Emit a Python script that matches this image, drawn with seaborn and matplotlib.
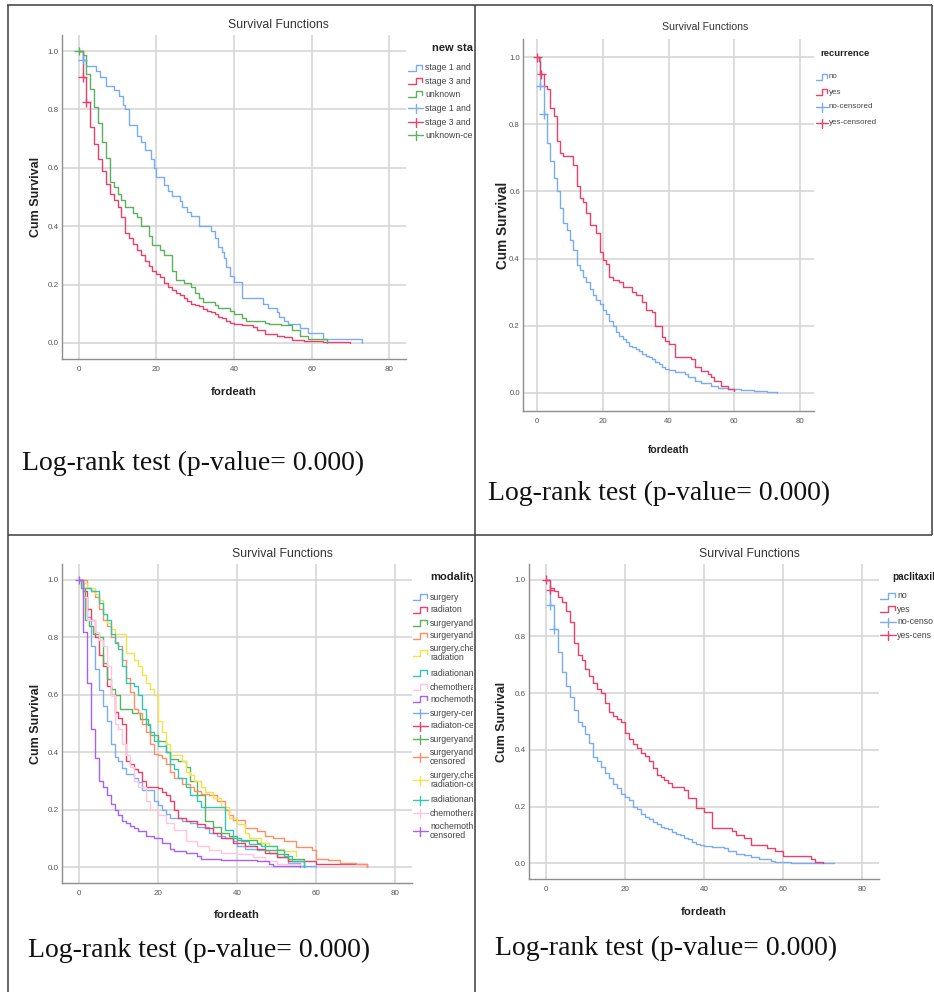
import numpy as np
import pandas as pd
import seaborn as sns
import matplotlib.pyplot as plt

###############################
######### data ################
###############################

## panel 1 : new stage
stage12_t = [0, 1, 2, 4.5, 5.5, 7, 9, 10.3, 11.4, 12, 13, 15, 16, 17, 18.5, 19.3, 20, 22, 23, 24, 26, 26.5,
             28, 29, 31, 34, 35, 36, 37, 37.5, 38, 39, 40, 42, 47.5, 48.7, 51, 51.7, 53, 54, 57, 59, 63, 73]
stage12_s = [1.0, 0.97, 0.95, 0.93, 0.91, 0.88, 0.865, 0.845, 0.815, 0.80, 0.745, 0.71, 0.69, 0.66, 0.63, 0.60,
             0.57, 0.54, 0.52, 0.505, 0.485, 0.465, 0.45, 0.435, 0.40, 0.385, 0.36, 0.33, 0.31, 0.29, 0.26, 0.23,
             0.21, 0.155, 0.135, 0.12, 0.105, 0.09, 0.075, 0.065, 0.05, 0.035, 0.015, 0.0]
stage34_t = [0, 1, 2, 3, 4, 5, 6, 7, 8, 9, 10, 11, 12, 13, 14, 15, 16, 17, 18, 19, 20, 21, 22, 23, 24, 25, 26,
             27, 28, 29, 30, 31, 32, 33, 34, 35, 36, 37, 38, 39, 40, 42, 45, 46, 48, 51, 53, 55, 58, 63, 70]
stage34_s = [1.0, 0.91, 0.825, 0.74, 0.68, 0.63, 0.59, 0.545, 0.51, 0.49, 0.465, 0.43, 0.375, 0.36, 0.34, 0.32,
             0.30, 0.28, 0.265, 0.245, 0.235, 0.225, 0.205, 0.19, 0.18, 0.17, 0.165, 0.155, 0.145, 0.135, 0.13,
             0.125, 0.115, 0.11, 0.105, 0.10, 0.09, 0.085, 0.075, 0.07, 0.065, 0.06, 0.055, 0.045, 0.03, 0.025,
             0.02, 0.01, 0.008, 0.004, 0.0]
unknown_t = [0, 1, 2, 3, 4, 5, 6, 7, 8, 9, 10, 11, 12, 14, 15, 16, 18, 19, 21, 22, 24, 25, 27, 29, 30, 31, 32,
             35, 36, 39, 40, 42, 43, 48, 49, 52, 55, 57, 59, 64]
unknown_s = [1.0, 0.985, 0.92, 0.87, 0.81, 0.755, 0.69, 0.635, 0.55, 0.535, 0.51, 0.49, 0.465, 0.445, 0.43, 0.40,
             0.365, 0.335, 0.32, 0.30, 0.245, 0.215, 0.205, 0.19, 0.17, 0.155, 0.14, 0.13, 0.12, 0.11, 0.10,
             0.085, 0.075, 0.07, 0.065, 0.06, 0.045, 0.025, 0.015, 0.0]
stage_names = ['stage 1 and 2', 'stage 3 and 4', 'unknown']
# legend text as far as the table cell shows it
stage_legend = ['stage 1 and 2', 'stage 3 and 4', 'unknown',
                'stage 1 and 2-cen', 'stage 3 and 4-cen', 'unknown-censo']
stage_cens_group = ['unknown', 'stage 1 and 2', 'stage 3 and 4', 'stage 3 and 4']
stage_cens_t = [0, 1, 1, 2]
stage_cens_s = [1.0, 0.97, 0.91, 0.825]

## panel 2 : recurrence
rec_no_t = [0, 1, 2, 3, 4, 5, 6, 7, 8, 9, 10, 11, 12, 13, 14, 15, 16, 17, 18, 19, 20, 21, 22, 23, 24, 25, 26,
            27, 28, 29, 30, 31, 32, 33, 34, 35, 36, 37, 38, 39, 40, 42, 45, 46, 48, 50, 53, 55, 58, 62, 66, 70, 73]
rec_no_s = [1.0, 0.915, 0.83, 0.745, 0.69, 0.64, 0.60, 0.55, 0.505, 0.485, 0.455, 0.425, 0.38, 0.365, 0.345,
            0.33, 0.31, 0.29, 0.275, 0.265, 0.245, 0.235, 0.215, 0.20, 0.18, 0.17, 0.16, 0.15, 0.14, 0.135,
            0.13, 0.125, 0.115, 0.11, 0.105, 0.10, 0.09, 0.085, 0.075, 0.07, 0.067, 0.06, 0.055, 0.045, 0.035,
            0.03, 0.02, 0.015, 0.01, 0.007, 0.004, 0.002, 0.0]
rec_yes_t = [0, 0.5, 1, 2, 3, 4, 5, 6, 7, 8, 11, 12, 13, 14, 15, 16, 18, 19, 20, 21, 22, 23, 25, 26, 29, 30,
             32, 33, 35, 36, 38, 39, 40, 42, 47, 48, 50, 52, 53, 54, 56, 58, 60]
rec_yes_s = [1.0, 0.99, 0.95, 0.915, 0.905, 0.85, 0.825, 0.75, 0.715, 0.705, 0.68, 0.615, 0.58, 0.57, 0.535,
             0.50, 0.475, 0.42, 0.395, 0.385, 0.345, 0.335, 0.33, 0.315, 0.30, 0.29, 0.27, 0.245, 0.24, 0.20,
             0.165, 0.155, 0.145, 0.105, 0.10, 0.075, 0.065, 0.055, 0.045, 0.035, 0.02, 0.01, 0.005]
rec_names = ['no', 'yes']
rec_legend = ['no', 'yes', 'no-censored', 'yes-censored']
rec_cens_group = ['yes', 'yes', 'no', 'no']
rec_cens_t = [0, 1.3, 1, 2]
rec_cens_s = [1.0, 0.95, 0.915, 0.83]

## panel 3 : modality of treatment
mod_surgery_t = [0, 1, 2, 3, 4, 5, 6, 7, 8, 9, 10, 11, 12, 14, 15, 16, 19, 20, 21, 22, 23, 26, 28, 30, 33, 35,
                 37, 39, 40, 42, 45, 48, 50, 53, 56, 60]
mod_surgery_s = [1.0, 0.94, 0.87, 0.77, 0.69, 0.615, 0.56, 0.51, 0.43, 0.385, 0.37, 0.345, 0.325, 0.31, 0.295,
                 0.27, 0.23, 0.215, 0.20, 0.185, 0.17, 0.16, 0.155, 0.14, 0.12, 0.11, 0.10, 0.09, 0.075, 0.065,
                 0.06, 0.05, 0.035, 0.015, 0.005, 0.0]
mod_radiation_t = [0, 1, 2, 3, 4, 5, 6, 7, 8, 9, 10, 11, 12, 13, 14, 15, 16, 17, 20, 21, 22, 23, 24, 25, 27, 30,
                   32, 34, 36, 39, 42, 45, 47, 50, 53, 60, 73]
mod_radiation_s = [1.0, 0.96, 0.90, 0.86, 0.80, 0.74, 0.70, 0.63, 0.60, 0.54, 0.52, 0.50, 0.37, 0.36, 0.34, 0.33,
                   0.30, 0.28, 0.275, 0.26, 0.25, 0.23, 0.20, 0.17, 0.16, 0.15, 0.135, 0.12, 0.10, 0.085, 0.075,
                   0.065, 0.05, 0.035, 0.02, 0.01, 0.0]
mod_surg_rad_t = [0, 0.5, 1.5, 2.5, 3.5, 5, 6, 7, 8, 9, 10.5, 13.5, 15.5, 17.5, 18, 20, 22, 23, 25, 27, 28, 30,
                  32, 34, 36, 38, 40, 45, 47, 50, 53, 57]
mod_surg_rad_s = [1.0, 0.97, 0.86, 0.84, 0.81, 0.80, 0.71, 0.655, 0.62, 0.60, 0.55, 0.535, 0.515, 0.495, 0.46,
                  0.44, 0.40, 0.375, 0.37, 0.35, 0.30, 0.25, 0.16, 0.14, 0.12, 0.11, 0.095, 0.085, 0.06, 0.045,
                  0.03, 0.0]
mod_surg_chemo_t = [0, 2, 3, 4, 5, 6, 7, 8, 9, 10, 11, 12, 13, 14, 15, 16, 17, 18, 19, 20, 21, 22, 23, 24, 26,
                    28, 29, 31, 33, 35, 37, 38, 39, 42, 45, 47, 49, 52, 55, 59, 60, 63, 66, 70, 73]
mod_surg_chemo_s = [1.0, 0.97, 0.96, 0.94, 0.90, 0.86, 0.84, 0.80, 0.785, 0.77, 0.72, 0.66, 0.61, 0.55, 0.535,
                    0.50, 0.47, 0.43, 0.395, 0.39, 0.38, 0.36, 0.33, 0.31, 0.29, 0.28, 0.265, 0.255, 0.25, 0.23,
                    0.20, 0.18, 0.165, 0.135, 0.125, 0.11, 0.10, 0.09, 0.07, 0.06, 0.03, 0.025, 0.015, 0.01, 0.0]
mod_all_t = [0, 1, 2, 4, 5, 6, 7, 8, 9, 12, 14, 15, 16, 17, 18, 19, 20, 21, 22, 23, 26, 27, 28, 29, 31, 32, 34,
             36, 38, 40, 42, 43, 46, 48, 50, 52, 55]
mod_all_s = [1.0, 0.99, 0.97, 0.95, 0.93, 0.88, 0.85, 0.83, 0.81, 0.745, 0.72, 0.70, 0.67, 0.64, 0.62, 0.60,
             0.51, 0.47, 0.43, 0.39, 0.37, 0.33, 0.32, 0.30, 0.28, 0.26, 0.24, 0.21, 0.17, 0.15, 0.12, 0.10,
             0.085, 0.075, 0.065, 0.055, 0.04]
mod_rad_chemo_t = [0, 1, 3, 5, 6, 7, 8, 9, 10, 11, 12, 14, 15, 16, 17, 18, 19, 20, 22, 23, 24, 25, 27, 28, 30,
                   31, 37, 39, 41, 43, 46, 50, 52, 54, 57]
mod_rad_chemo_s = [1.0, 0.97, 0.96, 0.92, 0.88, 0.86, 0.81, 0.78, 0.76, 0.70, 0.64, 0.63, 0.60, 0.55, 0.50,
                   0.47, 0.44, 0.42, 0.40, 0.36, 0.34, 0.31, 0.28, 0.25, 0.23, 0.21, 0.13, 0.10, 0.09, 0.08,
                   0.075, 0.06, 0.04, 0.02, 0.0]
mod_chemo_t = [0, 1, 2, 4, 5, 6, 7, 8, 9, 10, 11, 12, 13, 14, 15, 17, 18, 20, 22, 24, 27, 30, 33, 36, 40, 44,
               47, 50, 56]
mod_chemo_s = [1.0, 0.94, 0.86, 0.82, 0.79, 0.77, 0.70, 0.60, 0.50, 0.48, 0.43, 0.39, 0.35, 0.30, 0.28, 0.23,
               0.20, 0.18, 0.155, 0.13, 0.09, 0.075, 0.06, 0.05, 0.045, 0.035, 0.02, 0.01, 0.0]
mod_nochemo_t = [0, 1, 2, 3, 4, 5, 6, 7, 8, 9, 10, 11, 12, 13, 14, 15, 17, 19, 21, 23, 24, 27, 30, 31, 36, 45,
                 48, 49, 56]
mod_nochemo_s = [1.0, 0.82, 0.64, 0.48, 0.38, 0.30, 0.28, 0.25, 0.22, 0.20, 0.18, 0.16, 0.155, 0.145, 0.135,
                 0.125, 0.11, 0.10, 0.085, 0.065, 0.055, 0.05, 0.04, 0.03, 0.025, 0.02, 0.01, 0.003, 0.0]
mod_names = ['surgery', 'radiaton', 'surgeryandradiation', 'surgeryandchemo', 'surgery,chemo,radiation',
             'radiationandchemo', 'chemotherapy', 'nochemotherapy']
# legend text as far as the table cell shows it
mod_legend = ['surgery', 'radiaton', 'surgeryandrad', 'surgeryandche', 'surgery,chemo,\nradiation',
              'radiationandch', 'chemotherapy', 'nochemothera',
              'surgery-censo', 'radiaton-censo', 'surgeryandrad', 'surgeryandche\ncensored',
              'surgery,chemo,\nradiation-cens', 'radiationandch', 'chemotherapy', 'nochemothera\ncensored']
mod_cens_group = ['nochemotherapy']
mod_cens_t = [0]
mod_cens_s = [1.0]

## panel 4 : paclitaxil
pac_no_t = [0, 1, 2, 3, 4, 5, 6, 7, 8, 9, 10, 11, 12, 13, 14, 15, 16, 17, 18, 19, 20, 21, 22, 23, 24, 25, 26,
            27, 28, 29, 30, 31, 32, 33, 34, 35, 36, 37, 38, 39, 40, 42, 45, 46, 48, 50, 52, 54, 57, 58, 62, 66, 73]
pac_no_s = [1.0, 0.91, 0.825, 0.745, 0.675, 0.625, 0.585, 0.54, 0.50, 0.485, 0.455, 0.425, 0.375, 0.36, 0.34,
            0.32, 0.30, 0.28, 0.265, 0.245, 0.235, 0.225, 0.20, 0.19, 0.175, 0.165, 0.155, 0.145, 0.14, 0.13,
            0.125, 0.12, 0.11, 0.105, 0.10, 0.09, 0.085, 0.075, 0.07, 0.065, 0.062, 0.058, 0.055, 0.045, 0.032,
            0.028, 0.022, 0.015, 0.01, 0.005, 0.003, 0.001, 0.0]
pac_yes_t = [0, 1, 2, 3, 4, 5, 6, 7, 8, 9, 10, 11, 12, 13, 14, 15, 16, 17, 18, 19, 20, 21, 22, 23, 24, 25, 26,
             27, 28, 29, 30, 31, 32, 35, 36, 38, 40, 42, 47, 48, 50, 52, 56, 58, 60, 67, 68, 70]
pac_yes_s = [1.0, 0.97, 0.96, 0.94, 0.92, 0.89, 0.85, 0.775, 0.735, 0.715, 0.685, 0.66, 0.635, 0.615, 0.60,
             0.565, 0.535, 0.52, 0.51, 0.50, 0.46, 0.44, 0.42, 0.405, 0.39, 0.38, 0.36, 0.335, 0.31, 0.305,
             0.295, 0.285, 0.27, 0.26, 0.23, 0.195, 0.18, 0.125, 0.115, 0.10, 0.09, 0.065, 0.055, 0.045,
             0.025, 0.015, 0.006, 0.0]
pac_names = ['no', 'yes']
pac_legend = ['no', 'yes', 'no-censo', 'yes-cens']
pac_cens_group = ['yes', 'yes', 'no', 'no']
pac_cens_t = [0, 1, 1, 2]
pac_cens_s = [1.0, 0.965, 0.91, 0.825]

xticks = [0, 20, 40, 60, 80]
yticks = [0.0, 0.2, 0.4, 0.6, 0.8, 1.0]
logrank = 'Log-rank test (p-value= 0.000)'

###############################
############ plot #############
###############################
BLUE, RED, GREEN = '#79acf0', '#ea4069', '#5cb25c'
ORANGE, YELLOW, TEAL = '#ff8f63', '#f3e14a', '#33c6b1'
PINK, PURPLE = '#ffc5dd', '#a562f2'

NARROW = ['Liberation Sans Narrow', 'Liberation Sans', 'DejaVu Sans']
SANS = ['Liberation Sans', 'DejaVu Sans']
SERIF = ['Liberation Serif', 'DejaVu Serif']

sns.set_theme(style='white')
plt.rcParams['font.family'] = NARROW

W, H = 934, 992
fig = plt.figure(figsize=(W / 100, H / 100), dpi=100)


def add_px_axes(l, t, r, b):
    return fig.add_axes([l / W, 1 - b / H, (r - l) / W, (b - t) / H])


# page overlay in pixel coords: table borders + log-rank notes
page = add_px_axes(0, 0, W, H)
page.set_xlim(0, W)
page.set_ylim(H, 0)
page.axis('off')
border = dict(color='#3c3c3c', linewidth=1.1, solid_capstyle='butt')
page.plot([7, 932], [5, 5], **border)
page.plot([8, 8], [5, H], **border)
page.plot([475, 475], [5, H], **border)
page.plot([8, 932], [535, 535], **border)
page.plot([932, 932], [5, 535], **border)


def survival_panel(box, curves, names, colors, cens, ylab_x, xlab_y, title_xy, fs):
    l, t, r, b = box
    ax = add_px_axes(l, t, r, b)
    df = pd.concat([pd.DataFrame({'time': ct, 'surv': cs, 'group': n})
                    for n, (ct, cs) in zip(names, curves)], ignore_index=True)
    pal = dict(zip(names, colors))
    sns.lineplot(data=df, x='time', y='surv', hue='group', hue_order=names, palette=pal,
                 estimator=None, sort=False, drawstyle='steps-post', linewidth=1.0,
                 legend=False, ax=ax)
    cdf = pd.DataFrame({'time': cens[1], 'surv': cens[2], 'group': cens[0]})
    sns.scatterplot(data=cdf, x='time', y='surv', hue='group', palette=pal, marker='+',
                    s=40, linewidth=1.0, legend=False, ax=ax, zorder=4)
    ax.set(xlim=(-4.3, 84.3), ylim=(-0.055, 1.055))
    ax.set_xticks(xticks)
    ax.set_yticks(yticks)
    ax.set_yticklabels([f'{v:.1f}' for v in yticks])
    ax.grid(True, color='#d3d3d3', linewidth=1.1)
    ax.set_axisbelow(True)
    for side in ['top', 'right']:
        ax.spines[side].set_visible(False)
    for side in ['left', 'bottom']:
        ax.spines[side].set_color('#8e8e8e')
        ax.spines[side].set_linewidth(1.0)
    ax.tick_params(length=0, labelsize=fs['tick'], labelcolor='#555555')
    ax.tick_params(axis='y', pad=2.2)
    ax.tick_params(axis='x', pad=5)
    ax.set_xlabel('fordeath', fontsize=fs['xlab'], fontweight='bold', color='#222222')
    ax.set_ylabel('Cum Survival', fontsize=fs['ylab'], fontweight='bold', color='#222222',
                  family=SANS)
    ax.yaxis.set_label_coords(-(l - ylab_x) / (r - l), 0.5)
    ax.yaxis.label.set_va('center')
    ax.xaxis.set_label_coords(0.5, -(xlab_y - b) / (b - t))
    ax.xaxis.label.set_va('center')
    page.text(title_xy[0], title_xy[1], 'Survival Functions', fontsize=fs['title'],
              color='#333333', ha='center', va='center')
    return ax


def survival_legend(box, title, labels, colors, rows_y, hx, fs):
    # SPSS-like legend, clipped at the table cell edge
    l, t, r, b = box
    lax = add_px_axes(l, t, r, b)
    lax.set_xlim(l, r)
    lax.set_ylim(b, t)
    lax.axis('off')
    lax.text(hx[2] + fs['tdx'], rows_y[0], title, fontsize=fs['ltitle'], fontweight='bold',
             color='#222222', ha='left', va='center', clip_on=True)
    n = len(colors)
    for i, (lab, col, y) in enumerate(zip(labels, colors * 2, rows_y[1:])):
        x0, x1 = hx[0], hx[1]
        if i < n:
            xm, xe = x0 + 0.5 * (x1 - x0), x0 + 0.92 * (x1 - x0)
            lax.plot([x0, xm, xm, xe, xe], [y + 3, y + 3, y - 3, y - 3, y + 0.5],
                     color=col, linewidth=1.0)
        else:
            xm = 0.5 * (x0 + x1)
            lax.plot([x0, x1], [y, y], color=col, linewidth=1.0)
            lax.plot([xm, xm], [y - 4.5, y + 4.5], color=col, linewidth=1.0)
        lax.text(hx[2], y, lab, fontsize=fs['legend'], color='#444444', ha='left', va='center',
                 linespacing=0.95, clip_on=True)


fs_std = dict(tick=5.8, xlab=8.2, ylab=9, title=8.8, legend=6.3, ltitle=8, tdx=7)
fs_p2 = dict(tick=5.6, xlab=7.5, ylab=9.8, title=7.6, legend=5.8, ltitle=6.8, tdx=-9)

## panel 1
survival_panel((62, 35, 406, 359), [(stage12_t, stage12_s), (stage34_t, stage34_s), (unknown_t, unknown_s)],
               stage_names, [BLUE, RED, GREEN], (stage_cens_group, stage_cens_t, stage_cens_s),
               36, 392, (278, 25), fs_std)
survival_legend((404, 38, 473, 145), 'new stage', stage_legend, [BLUE, RED, GREEN],
                [48, 68, 81, 94, 108, 122, 135], (408, 423, 425), fs_std)
page.text(22, 470, logrank, fontsize=20, family=SERIF, color='#111111', va='baseline')

## panel 2
survival_panel((523, 39, 814, 411), [(rec_no_t, rec_no_s), (rec_yes_t, rec_yes_s)],
               rec_names, [BLUE, RED], (rec_cens_group, rec_cens_t, rec_cens_s),
               503, 450, (705, 27), fs_p2)
survival_legend((812, 42, 930, 135), 'recurrence', rec_legend, [BLUE, RED],
                [53, 77, 92, 107, 123], (816, 828, 829), fs_p2)
page.text(488, 500, logrank, fontsize=20, family=SERIF, color='#111111', va='baseline')

## panel 3
survival_panel((62, 564, 412, 883),
               [(mod_surgery_t, mod_surgery_s), (mod_radiation_t, mod_radiation_s),
                (mod_surg_rad_t, mod_surg_rad_s), (mod_surg_chemo_t, mod_surg_chemo_s),
                (mod_all_t, mod_all_s), (mod_rad_chemo_t, mod_rad_chemo_s),
                (mod_chemo_t, mod_chemo_s), (mod_nochemo_t, mod_nochemo_s)],
               mod_names, [BLUE, RED, GREEN, ORANGE, YELLOW, TEAL, PINK, PURPLE],
               (mod_cens_group, mod_cens_t, mod_cens_s), 36, 915, (282, 554), fs_std)
survival_legend((409, 566, 473, 845), 'modalityo', mod_legend,
                [BLUE, RED, GREEN, ORANGE, YELLOW, TEAL, PINK, PURPLE],
                [577, 597, 610, 623, 636, 653, 673, 687, 699, 713, 726, 739, 757, 780, 800, 813, 831],
                (413, 428, 430), dict(fs_std, tdx=0))
page.text(28, 957, logrank, fontsize=20, family=SERIF, color='#111111', va='baseline')

## panel 4
survival_panel((529, 564, 879, 879), [(pac_no_t, pac_no_s), (pac_yes_t, pac_yes_s)],
               pac_names, [BLUE, RED], (pac_cens_group, pac_cens_t, pac_cens_s),
               502, 912, (749, 554), fs_std)
survival_legend((876, 566, W, 645), 'paclitaxil', pac_legend, [BLUE, RED],
                [577, 596, 609, 622, 635], (880, 896, 897), dict(fs_std, tdx=-5, ltitle=7.2))
page.text(495, 955, logrank, fontsize=20, family=SERIF, color='#111111', va='baseline')

fig.savefig('out.png', dpi=100)
